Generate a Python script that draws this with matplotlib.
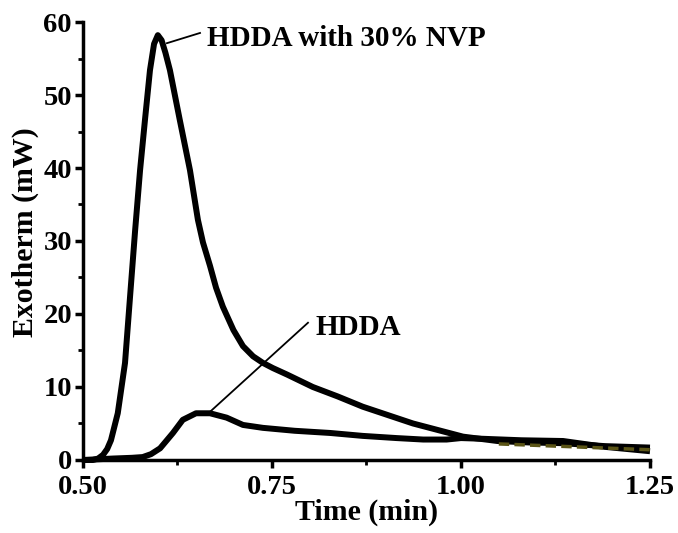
import matplotlib
matplotlib.use('Agg')
import matplotlib.pyplot as plt
from matplotlib.ticker import MultipleLocator

plt.rcParams['font.family'] = 'Liberation Serif'
plt.rcParams['font.weight'] = 'bold'

# HDDA with 30% NVP
t_nvp = [0.50, 0.513, 0.520, 0.5265, 0.532, 0.537, 0.546, 0.5556, 0.5622, 0.569, 0.5755,
         0.582, 0.5886, 0.594, 0.599, 0.604, 0.609, 0.615, 0.628, 0.6415, 0.652,
         0.6587, 0.668, 0.676, 0.685, 0.699, 0.7116, 0.725, 0.738, 0.751, 0.770,
         0.804, 0.837, 0.870, 0.9365, 1.0026, 1.048, 1.09, 1.135, 1.19, 1.25]
q_nvp = [0.0, 0.0, 0.2, 0.7, 1.5, 2.7, 6.4, 13.3, 22.3, 31.5, 39.7,
         46.6, 53.4, 57.0, 58.2, 57.5, 55.8, 53.4, 46.6, 39.7, 32.9,
         29.8, 26.6, 23.6, 21.0, 17.8, 15.6, 14.2, 13.3, 12.6, 11.7,
         10.0, 8.7, 7.3, 5.0, 3.2, 2.6, 2.4, 2.3, 1.9, 1.7]

# HDDA
t_hdda = [0.50, 0.54, 0.565, 0.579, 0.590, 0.602, 0.619, 0.632, 0.6495, 0.668, 0.690,
          0.7116, 0.738, 0.780, 0.827, 0.870, 0.915, 0.950, 0.981, 1.00, 1.03, 1.08,
          1.135, 1.19, 1.25]
q_hdda = [0.0, 0.2, 0.3, 0.4, 0.8, 1.6, 3.7, 5.5, 6.4, 6.4, 5.8,
          4.8, 4.4, 4.0, 3.7, 3.3, 3.0, 2.8, 2.8, 3.0, 2.9, 2.7,
          2.6, 1.8, 1.2]

# olive dashed trace visible in the tail
t_tail = [1.05, 1.15, 1.25]
q_tail = [2.2, 1.8, 1.4]

fig, ax = plt.subplots(figsize=(6.78, 5.33), dpi=100)
fig.subplots_adjust(left=0.1224, right=0.9587, bottom=0.137, top=0.9587)

ax.plot(t_nvp, q_nvp, color='black', linewidth=4.3, solid_joinstyle='round',
        solid_capstyle='butt', clip_on=False)
ax.plot(t_hdda, q_hdda, color='black', linewidth=4.3, solid_joinstyle='round',
        solid_capstyle='butt', clip_on=False)
ax.plot(t_tail, q_tail, color='#5a5416', linewidth=2.5, linestyle=(0, (3, 1.5)), clip_on=False)

# labels with leader lines
ax.plot([0.611, 0.6548], [57.1, 58.5], color='black', linewidth=1.3)
ax.text(0.664, 56.7, 'HDDA with 30% NVP', fontsize=21, fontweight='bold', va='baseline')
ax.plot([0.668, 0.7976], [6.6, 18.8], color='black', linewidth=1.3)
ax.text(0.807, 17.1, 'HDDA', fontsize=21, fontweight='bold', va='baseline')

ax.set_xlim(0.5, 1.25)
ax.set_ylim(0, 60)
ax.xaxis.set_major_locator(MultipleLocator(0.25))
ax.xaxis.set_minor_locator(MultipleLocator(0.125))
ax.yaxis.set_major_locator(MultipleLocator(10))
ax.yaxis.set_minor_locator(MultipleLocator(5))
ax.xaxis.set_major_formatter(plt.FuncFormatter(lambda v, p: f'{v:.2f}'))

for s in ['top', 'right']:
    ax.spines[s].set_visible(False)
for s in ['left', 'bottom']:
    ax.spines[s].set_linewidth(2.5)

ax.tick_params(which='major', direction='out', length=6, width=2.5, labelsize=20.5)
ax.tick_params(which='minor', direction='out', length=3.5, width=2)
ax.tick_params(axis='x', which='major', pad=5)
ax.tick_params(axis='y', which='major', pad=2)

ax.set_xlabel('Time (min)', fontsize=21.5, fontweight='bold', labelpad=-1)
ax.set_ylabel('Exotherm (mW)', fontsize=21.5, fontweight='bold')
ax.yaxis.set_label_coords(-0.077, 0.52)

plt.savefig('out.png', dpi=100)
